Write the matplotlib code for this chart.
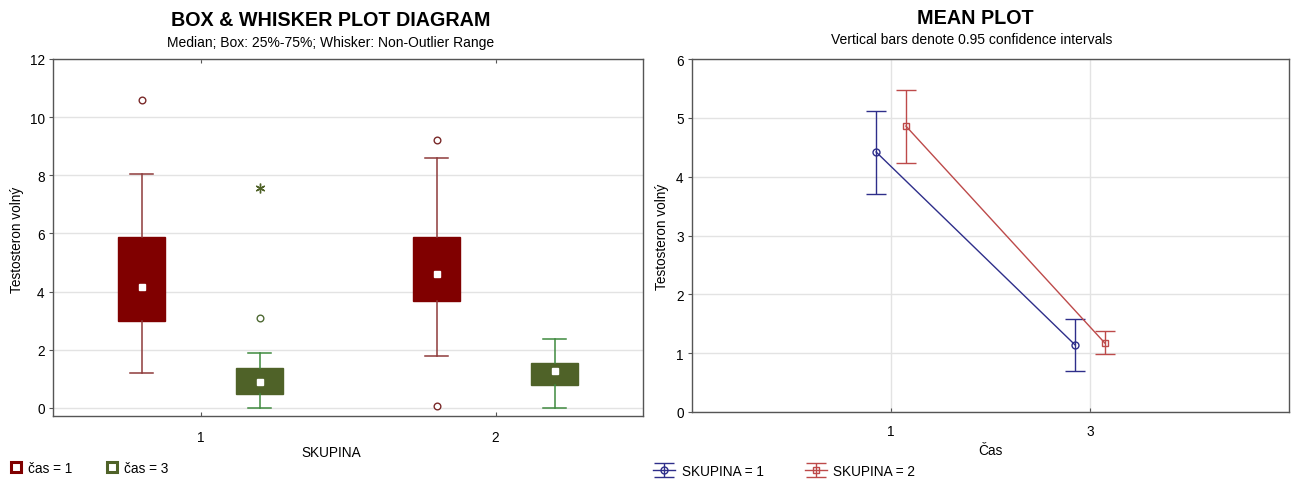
import matplotlib
matplotlib.use("Agg")
import matplotlib.pyplot as plt
from matplotlib.lines import Line2D

plt.rcParams["font.family"] = ["Liberation Sans", "DejaVu Sans"]

# ---- Box & whisker data (Testosteron volný by SKUPINA and čas) ----
groups = [1, 2]
cas_labels = ["čas = 1", "čas = 3"]

cas1_median = [4.17, 4.60]
cas1_q1 = [2.98, 3.68]
cas1_q3 = [5.89, 5.89]
cas1_whislo = [1.21, 1.78]
cas1_whishi = [8.06, 8.59]
cas1_outliers = [[10.59], [9.22, 0.06]]
cas1_extremes = [[], []]

cas3_median = [0.90, 1.28]
cas3_q1 = [0.49, 0.79]
cas3_q3 = [1.38, 1.56]
cas3_whislo = [0.0, 0.0]
cas3_whishi = [1.88, 2.38]
cas3_outliers = [[3.08], []]
cas3_extremes = [[7.55], []]

# ---- Mean plot data (means with 0.95 confidence intervals) ----
cas_ticks = ["1", "3"]
skupina_labels = ["SKUPINA = 1", "SKUPINA = 2"]
s1_mean = [4.42, 1.14]
s1_ci_low = [3.71, 0.70]
s1_ci_high = [5.12, 1.58]
s2_mean = [4.86, 1.17]
s2_ci_low = [4.23, 0.99]
s2_ci_high = [5.48, 1.37]

W, H = 1291, 481
fig = plt.figure(figsize=(W / 100, H / 100), dpi=100)

RED = "#800000"
RED_W = "#8e3b3b"
GREEN = "#4f6228"
GREEN_W = "#3f8a3f"
SPINE = "#555555"
GRID = "#e3e3e3"


def fx(px):
    return px / W


def fy(py):
    return 1 - py / H


# ---------------- Left: box & whisker plot ----------------
ax1 = fig.add_axes([fx(53), fy(417), fx(643 - 53), (417 - 60) / H])


def stats_for(med, q1, q3, lo, hi):
    return [dict(med=m, q1=a, q3=b, whislo=c, whishi=d, fliers=[])
            for m, a, b, c, d in zip(med, q1, q3, lo, hi)]


series = [
    (stats_for(cas1_median, cas1_q1, cas1_q3, cas1_whislo, cas1_whishi),
     cas1_median, cas1_outliers, cas1_extremes, -0.2, RED, RED_W, "#7a2a2a"),
    (stats_for(cas3_median, cas3_q1, cas3_q3, cas3_whislo, cas3_whishi),
     cas3_median, cas3_outliers, cas3_extremes, 0.2, GREEN, GREEN_W, "#4f6a34"),
]

for stats, med, outl, extr, off, col, wcol, ocol in series:
    pos = [g + off for g in groups]
    ax1.bxp(stats, positions=pos, widths=0.158, capwidths=0.078,
            patch_artist=True, showfliers=False, manage_ticks=False,
            boxprops=dict(facecolor=col, edgecolor=col, linewidth=1),
            whiskerprops=dict(color=wcol, linewidth=1.1),
            capprops=dict(color=wcol, linewidth=1.1),
            medianprops=dict(linewidth=0), zorder=3)
    ax1.plot(pos, med, ls="none", marker="s", ms=4.6, mfc="white",
             mec="white", zorder=5)
    for p, vals in zip(pos, outl):
        if vals:
            ax1.plot([p] * len(vals), vals, ls="none", marker="o", ms=4.8,
                     mfc="white", mec=ocol, mew=1, zorder=4)
    for p, vals in zip(pos, extr):
        if vals:
            ax1.plot([p] * len(vals), vals, ls="none", marker=(6, 2, 0),
                     ms=7, mec=col, mew=1, zorder=4)

ax1.set_xlim(0.5, 2.5)
ax1.set_ylim(-0.28, 12)
ax1.set_yticks(range(0, 13, 2))
ax1.set_xticks(groups)
ax1.set_xticklabels([str(g) for g in groups])
ax1.yaxis.grid(True, color=GRID, linewidth=1)
ax1.set_axisbelow(True)
ax1.tick_params(axis="x", direction="in", top=True, length=3, pad=10,
                labelsize=9.8, color=SPINE)
ax1.tick_params(axis="y", direction="out", length=3, pad=3,
                labelsize=9.8, color=SPINE)
for s in ax1.spines.values():
    s.set_color(SPINE)
    s.set_linewidth(1)

# ---------------- Right: mean plot ----------------
ax2 = fig.add_axes([fx(692), fy(413), fx(1289 - 692), (413 - 60) / H])
xpos = [0, 1]

BLUE = "#2e2e8a"
RED2 = "#bd4a4a"

for mean, lo, hi, off, col, mk in [
        (s1_mean, s1_ci_low, s1_ci_high, -0.075, BLUE, "o"),
        (s2_mean, s2_ci_low, s2_ci_high, 0.075, RED2, "s")]:
    xs = [x + off for x in xpos]
    yerr = [[m - l for m, l in zip(mean, lo)], [h - m for m, h in zip(mean, hi)]]
    ax2.errorbar(xs, mean, yerr=yerr, color=col, lw=1, elinewidth=1,
                 capsize=7.2, capthick=1, marker=mk, ms=5, mfc="none",
                 mec=col, mew=1, zorder=3)

ax2.set_xlim(-1, 2)
ax2.set_ylim(0, 6)
ax2.set_xticks(xpos)
ax2.set_xticklabels(cas_ticks)
ax2.set_yticks(range(0, 7))
ax2.grid(True, color=GRID, linewidth=1)
ax2.set_axisbelow(True)
ax2.tick_params(axis="x", direction="in", length=3, pad=9,
                labelsize=9.8, color=SPINE)
ax2.tick_params(axis="y", direction="out", length=3, pad=3,
                labelsize=9.8, color=SPINE)
for s in ax2.spines.values():
    s.set_color(SPINE)
    s.set_linewidth(1)

# ---------------- Titles and axis labels ----------------
fig.text(fx(331), fy(20), "BOX & WHISKER PLOT DIAGRAM", ha="center",
         va="center", fontsize=14.2, fontweight="bold")
fig.text(fx(331), fy(43), "Median; Box: 25%-75%; Whisker: Non-Outlier Range",
         ha="center", va="center", fontsize=10)
fig.text(fx(975), fy(19), "MEAN PLOT", ha="center", va="center",
         fontsize=14.2, fontweight="bold")
fig.text(fx(972), fy(40), "Vertical bars denote 0.95 confidence intervals",
         ha="center", va="center", fontsize=10)

fig.text(fx(331), fy(453), "SKUPINA", ha="center", va="center", fontsize=9.8)
fig.text(fx(990), fy(451), "Čas", ha="center", va="center", fontsize=9.8)
fig.text(fx(17), fy(240), "Testosteron volný", ha="center", va="center",
         rotation=90, fontsize=9.8)
fig.text(fx(662), fy(237), "Testosteron volný", ha="center", va="center",
         rotation=90, fontsize=9.8)

# ---------------- Legends ----------------
box_handles = [
    Line2D([], [], ls="none", marker="s", ms=7, mfc="white", mec=RED, mew=2.2),
    Line2D([], [], ls="none", marker="s", ms=7, mfc="white", mec=GREEN, mew=2.2),
]
fig.legend(box_handles, cas_labels, loc="center left",
           bbox_to_anchor=(fx(4), fy(469)), ncol=2, frameon=False,
           fontsize=9.8, handlelength=0.9, handletextpad=0.45,
           columnspacing=2.5, borderaxespad=0)

err_handles = [c for c in ax2.containers]
fig.legend(err_handles, skupina_labels, loc="center left",
           bbox_to_anchor=(fx(648), fy(472)), ncol=2, frameon=False,
           fontsize=9.8, handlelength=1.6, handletextpad=0.5,
           columnspacing=3.0, borderaxespad=0)

fig.savefig("out.png", dpi=100, facecolor="white")
